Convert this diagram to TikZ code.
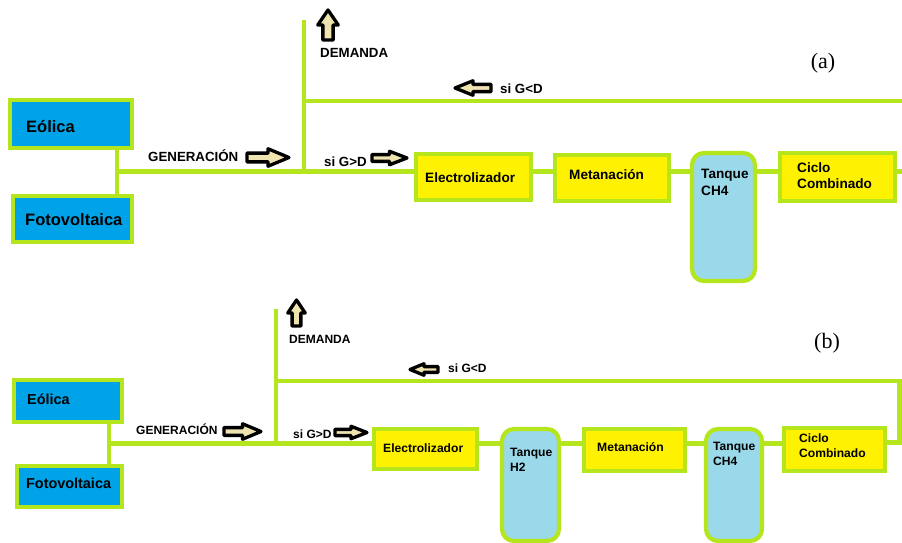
\documentclass[tikz,border=0pt]{standalone}
\usepackage{fontspec}
\setmainfont{Liberation Sans}
\newfontfamily\panelserif{Liberation Serif}
\definecolor{linegreen}{HTML}{B5E61D}
\definecolor{srcblue}{HTML}{00A2E8}
\definecolor{procyellow}{HTML}{FFF200}
\definecolor{tankblue}{HTML}{99D9EA}
\definecolor{arrowfill}{HTML}{EFE4B0}
\tikzset{
  conn/.style={draw=linegreen,line width=4.2pt},
  gbox/.style={rectangle,draw=linegreen,line width=4.2pt,inner sep=0pt},
  srcbox/.style={gbox,fill=srcblue},
  procbox/.style={gbox,fill=procyellow},
  tankbox/.style={gbox,fill=tankblue,rounded corners=12pt},
  arrowst/.style={draw=black,line width=3.3pt,fill=arrowfill,line join=round},
  txt/.style={inner sep=0pt,text=black},
  srcA/.style={txt,font=\fontsize{16.5}{19}\selectfont\bfseries,anchor=base west},
  srcB/.style={txt,font=\fontsize{14.4}{17}\selectfont\bfseries,anchor=base west},
  lblA/.style={txt,font=\fontsize{13.3}{16}\selectfont\bfseries,anchor=base west},
  lblB/.style={txt,font=\fontsize{12}{14.5}\selectfont\bfseries,anchor=base west},
  multiA/.style={txt,font=\fontsize{13.6}{16.5}\selectfont\bfseries,align=left,anchor=north west},
  multiB/.style={txt,font=\fontsize{12.1}{14.5}\selectfont\bfseries,align=left,anchor=north west},
  panel/.style={txt,font=\panelserif\fontsize{22}{24}\selectfont},
  pics/rarr/.style={code={\draw[arrowst] (0,-0.25) -- (0.5,-0.25) -- (0.5,-0.5) -- (1,0) -- (0.5,0.5) -- (0.5,0.25) -- (0,0.25) -- cycle;}},
  pics/uarr/.style={code={\draw[arrowst] (-0.25,0) -- (-0.25,-0.5) -- (-0.5,-0.5) -- (0,-1) -- (0.5,-0.5) -- (0.25,-0.5) -- (0.25,0) -- cycle;}}
}
\begin{document}
\begin{tikzpicture}[x=1pt,y=-1pt]
\useasboundingbox[fill=white] (0,0) rectangle (902,543);

% ================= Panel (a) =================
\coordinate (jA) at (117,171.5);
\coordinate (dA) at (304,171.5);
\coordinate (dtopA) at (304,20);
\coordinate (tA) at (304,101);
\coordinate (tendA) at (902,101);
\coordinate (endA) at (902,171.5);

\draw[conn] (dtopA) -- (dA);
\draw[conn] (tA) -- (tendA);

\node[srcbox,minimum width=122pt,minimum height=48pt] (eolA) at (71,124) {};
\node[srcbox,minimum width=119pt,minimum height=46pt] (fotA) at (72.5,219) {};
\node[procbox,minimum width=115pt,minimum height=46pt] (eleA) at (473.5,177) {};
\node[procbox,minimum width=114pt,minimum height=46pt] (metA) at (612,178) {};
\node[tankbox,minimum width=63pt,minimum height=128pt] (tchA) at (723.5,217) {};
\node[procbox,minimum width=115pt,minimum height=48pt] (cicA) at (837.5,177) {};

\draw[conn] (eolA.south -| jA) -- (fotA.north -| jA);
\draw[conn] (jA) -- (jA -| eleA.west);
\draw[conn] (eleA.east |- jA) -- (metA.west |- jA);
\draw[conn] (metA.east |- jA) -- (tchA.west |- jA);
\draw[conn] (tchA.east |- jA) -- (cicA.west |- jA);
\draw[conn] (cicA.east |- jA) -- (endA);

\node[srcA] (teolA) at (26,132) {Eólica};
\node[srcA] (tfotA) at (25,225) {Fotovoltaica};
\node[lblA] (tgenA) at (148,161) {GENERACIÓN};
\node[lblA] (tdemA) at (320,58) {DEMANDA};
\node[lblA] (tgdA) at (324,166) {si G>D};
\node[lblA] (tldA) at (500,93) {si G<D};
\node[lblA,font=\fontsize{13.6}{16.5}\selectfont\bfseries] (teleA) at (425,182) {Electrolizador};
\node[lblA,font=\fontsize{13.6}{16.5}\selectfont\bfseries] (tmetA) at (569,179.5) {Metanación};
\node[multiA] (ttchA) at (701,169) {Tanque\\CH4};
\node[multiA,font=\fontsize{13.6}{16}\selectfont\bfseries] (tcicA) at (797,162) {Ciclo\\Combinado};
\node[panel] (pa) at (823,63) {(a)};

\pic (agenA) [xscale=42,yscale=17.5] at (247,157.5) {rarr};
\pic (agdA) [xscale=35,yscale=13.5] at (372,158) {rarr};
\pic (aldA) [xscale=-36,yscale=14.5] at (491,88) {rarr};
\pic (ademA) [xscale=20.5,yscale=30] at (328,40) {uarr};

% ================= Panel (b) =================
\coordinate (jB) at (109,443.5);
\coordinate (dB) at (276,443.5);
\coordinate (dtopB) at (276,309);
\coordinate (tB) at (276,381);
\coordinate (c1B) at (899.5,381);
\coordinate (c2B) at (899.5,442.5);

\draw[conn] (dtopB) -- (dB);

\node[srcbox,minimum width=108pt,minimum height=42pt] (eolB) at (68,401) {};
\node[srcbox,minimum width=105pt,minimum height=41pt] (fotB) at (69.5,486.5) {};
\node[procbox,minimum width=103pt,minimum height=40pt] (eleB) at (425.5,449) {};
\node[tankbox,minimum width=57pt,minimum height=112pt] (th2B) at (530.5,485) {};
\node[procbox,minimum width=101pt,minimum height=42pt] (metB) at (634.5,450) {};
\node[tankbox,minimum width=56pt,minimum height=112pt] (tchB) at (734,485) {};
\node[procbox,minimum width=101pt,minimum height=43pt] (cicB) at (834.5,449.5) {};

\draw[conn] (tB) -- (c1B) -- (c2B) -- (cicB.east |- c2B);
\draw[conn] (eolB.south -| jB) -- (fotB.north -| jB);
\draw[conn] (jB) -- (jB -| eleB.west);
\draw[conn] (eleB.east |- jB) -- (th2B.west |- jB);
\draw[conn] (th2B.east |- jB) -- (metB.west |- jB);
\draw[conn] (metB.east |- jB) -- (tchB.west |- jB);
\draw[conn] (tchB.east |- jB) -- (cicB.west |- jB);

\node[srcB] (teolB) at (27,404) {Eólica};
\node[srcB] (tfotB) at (26,488) {Fotovoltaica};
\node[lblB] (tgenB) at (136,434) {GENERACIÓN};
\node[lblB] (tdemB) at (289,343) {DEMANDA};
\node[lblB] (tgdB) at (293,438) {si G>D};
\node[lblB] (tldB) at (448,372.5) {si G<D};
\node[lblB,font=\fontsize{12.1}{14.5}\selectfont\bfseries] (teleB) at (383,452) {Electrolizador};
\node[multiB] (tth2B) at (510,448) {Tanque\\H2};
\node[lblB,font=\fontsize{12.1}{14.5}\selectfont\bfseries] (tmetB) at (597,451) {Metanación};
\node[multiB] (ttchB) at (713,442) {Tanque\\CH4};
\node[multiB] (tcicB) at (799,434) {Ciclo\\Combinado};
\node[panel] (pb) at (827,343) {(b)};

\pic (agenB) [xscale=37,yscale=15.5] at (224,431.5) {rarr};
\pic (agdB) [xscale=32,yscale=12.5] at (335,432.5) {rarr};
\pic (aldB) [xscale=-28,yscale=11.5] at (438,369.5) {rarr};
\pic (ademB) [xscale=17.5,yscale=26] at (296.5,326) {uarr};
\end{tikzpicture}
\end{document}
